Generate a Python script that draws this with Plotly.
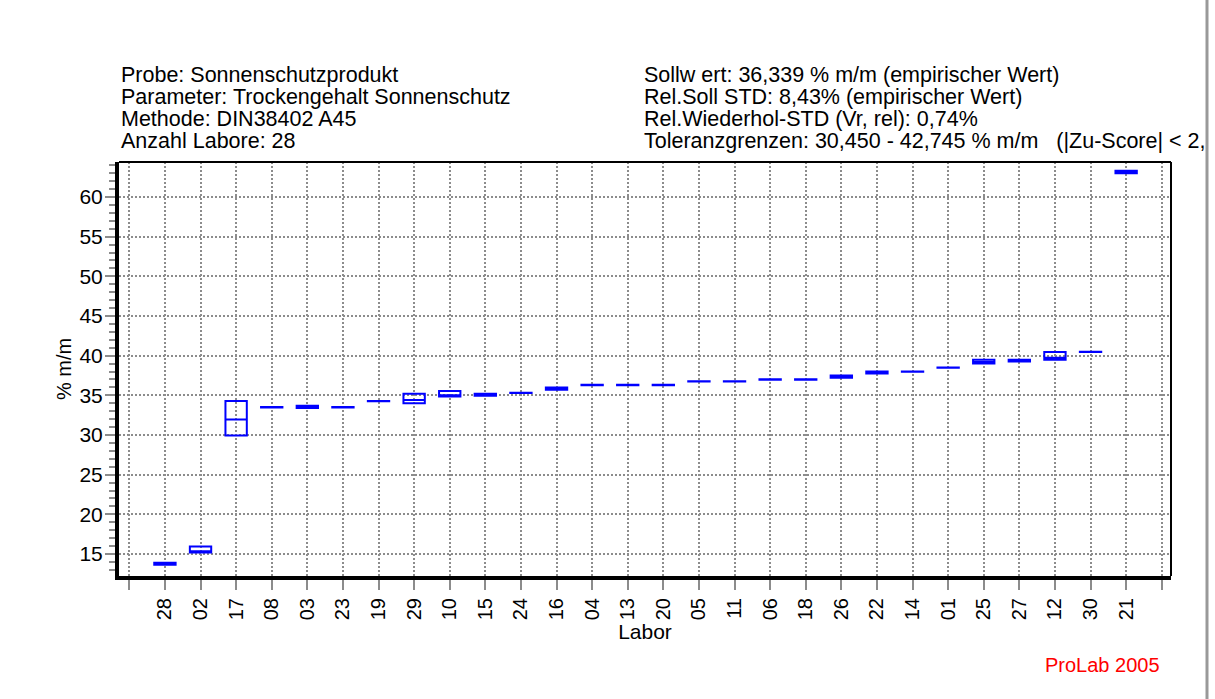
import plotly.graph_objects as go

# ---- data ----
labs = ["28", "02", "17", "08", "03", "23", "19", "29", "10", "15", "24", "16", "04", "13",
        "20", "05", "11", "06", "18", "26", "22", "14", "01", "25", "27", "12", "30", "21"]
q1 = [13.65, 15.20, 29.95, 33.48, 33.40, 33.48, 34.26, 34.00, 34.85, 34.95, 35.28, 35.72, 36.28, 36.28,
      36.28, 36.75, 36.75, 36.98, 36.98, 37.22, 37.75, 37.98, 38.48, 39.00, 39.25, 39.50, 40.45, 63.00]
median = [13.78, 15.35, 31.95, 33.50, 33.55, 33.50, 34.28, 34.40, 35.00, 35.08, 35.30, 35.85, 36.30, 36.30,
          36.30, 36.77, 36.77, 37.00, 37.00, 37.35, 37.88, 38.00, 38.50, 39.20, 39.37, 39.75, 40.47, 63.15]
q3 = [13.90, 15.95, 34.28, 33.52, 33.70, 33.52, 34.30, 35.20, 35.55, 35.20, 35.32, 36.00, 36.32, 36.32,
      36.32, 36.79, 36.79, 37.02, 37.02, 37.50, 38.02, 38.02, 38.52, 39.50, 39.50, 40.45, 40.49, 63.30]
y_ticks = [15, 20, 25, 30, 35, 40, 45, 50, 55, 60]

header_left = ["Probe: Sonnenschutzprodukt",
               "Parameter: Trockengehalt Sonnenschutz",
               "Methode: DIN38402 A45",
               "Anzahl Labore: 28"]
header_right = ["Sollw ert: 36,339 % m/m (empirischer Wert)",
                "Rel.Soll STD: 8,43% (empirischer Wert)",
                "Rel.Wiederhol-STD (Vr, rel): 0,74%",
                "Toleranzgrenzen: 30,450 - 42,745 % m/m\u00a0\u00a0\u00a0(|Zu-Score| < 2,"]

FONT = "Liberation Sans, Arial, sans-serif"
xpos = list(range(1, len(labs) + 1))
tickvals = list(range(0, len(labs) + 2))
ticktext = [""] + labs + [""]

fig = go.Figure()
fig.add_trace(go.Box(
    x=xpos, q1=q1, median=median, q3=q3, lowerfence=q1, upperfence=q3,
    width=0.6, line=dict(color="#0000ff", width=2), fillcolor="rgba(0,0,0,0)",
    boxpoints=False, showlegend=False, hoverinfo="skip"))

L, R, T, B = 119, 44, 162, 123
W, H = 1215, 699
pw, ph = W - L - R, H - T - B

fig.update_layout(
    width=W, height=H,
    margin=dict(l=L, r=R, t=T, b=B, pad=0),
    paper_bgcolor="white", plot_bgcolor="white",
    font=dict(family=FONT, size=20, color="black"),
    showlegend=False,
)

fig.update_xaxes(
    range=[-0.29, 29.26], tickmode="array", tickvals=tickvals, ticktext=ticktext,
    tickangle=-90, tickfont=dict(size=20, family=FONT),
    ticks="outside", ticklen=10, tickwidth=2, tickcolor="#8c8c8c",
    showline=True, linewidth=4, linecolor="black",
    showgrid=True, gridcolor="#8c8c8c", gridwidth=1.5, griddash="2px,2px",
    zeroline=False, automargin=False,
    title=dict(text="Labor", font=dict(size=21, family=FONT), standoff=3),
)
fig.update_yaxes(
    range=[12.23, 64.41], tickmode="array", tickvals=y_ticks,
    tickfont=dict(size=21, family=FONT), ticklabelstandoff=-2,
    ticks="outside", ticklen=10, tickwidth=2, tickcolor="#8c8c8c",
    minor=dict(dtick=1, tick0=0, ticks="outside", ticklen=6, tickwidth=2,
               tickcolor="#8c8c8c", showgrid=False),
    showline=True, linewidth=4, linecolor="black",
    showgrid=True, gridcolor="#8c8c8c", gridwidth=1.5, griddash="2px,2px",
    zeroline=False, automargin=False,
    title=dict(text="% m/m", font=dict(size=20, family=FONT), standoff=3),
)

# thin top and right frame lines
fig.add_shape(type="line", xref="paper", yref="paper", x0=0, x1=1, y0=1, y1=1,
              line=dict(color="black", width=2))
fig.add_shape(type="line", xref="paper", yref="paper", x0=1, x1=1, y0=0, y1=1,
              line=dict(color="black", width=2))
# page border line at the right
xp = (1207 - L) / pw
fig.add_shape(type="line", xref="paper", yref="paper", x0=xp, x1=xp,
              y0=(T + ph - H) / ph, y1=(T + ph) / ph,
              line=dict(color="#999999", width=3))

def py(ypix):
    return (T + ph - ypix) / ph

for i, (tl, tr) in enumerate(zip(header_left, header_right)):
    yc = 75.0 + 22 * i
    fig.add_annotation(text=tl, xref="paper", yref="paper", x=(119 - L) / pw, y=py(yc),
                       xanchor="left", yanchor="middle", showarrow=False,
                       font=dict(size=21.5, family=FONT, color="black"))
    fig.add_annotation(text=tr, xref="paper", yref="paper", x=(642 - L) / pw, y=py(yc),
                       xanchor="left", yanchor="middle", showarrow=False,
                       font=dict(size=21.5, family=FONT, color="black"))

fig.add_annotation(text="ProLab 2005", xref="paper", yref="paper", x=(1043 - L) / pw, y=py(664.5),
                   xanchor="left", yanchor="middle", showarrow=False,
                   font=dict(size=20, family=FONT, color="#ff0000"))

fig.write_html("out.html")
